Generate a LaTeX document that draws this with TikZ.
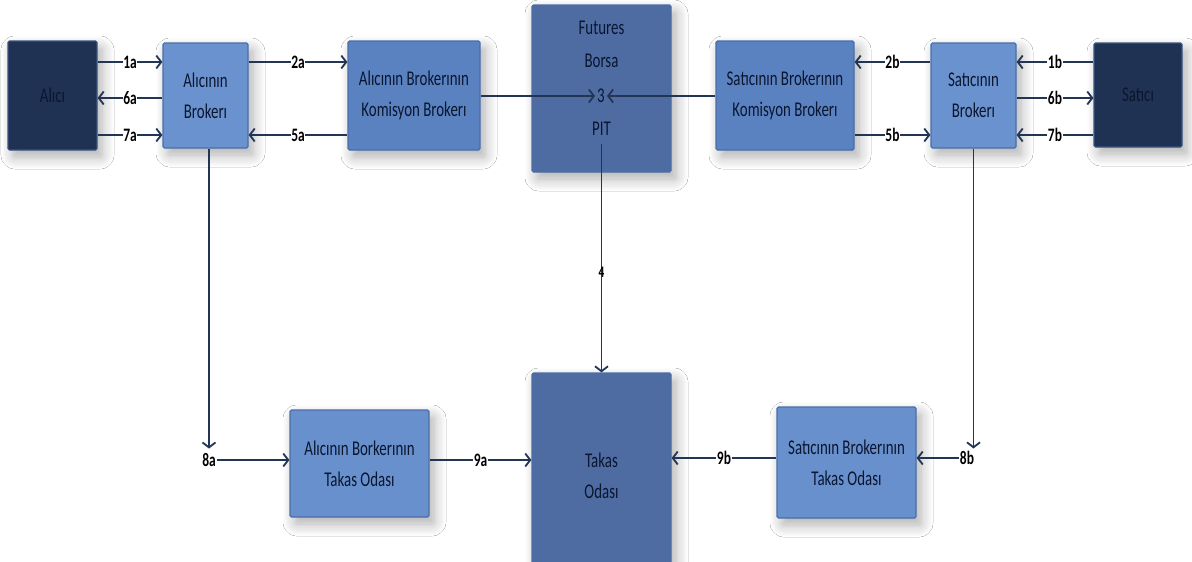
\documentclass[tikz,border=0pt]{standalone}
\usepackage{fontspec}
\setmainfont{Carlito}[FakeStretch=0.71]
\usetikzlibrary{arrows.meta,shadows.blur}
\definecolor{darkfill}{HTML}{1F3254}
\definecolor{darkline}{HTML}{3A5580}
\definecolor{lightfill}{HTML}{6A92CE}
\definecolor{midfill}{HTML}{5B82C0}
\definecolor{takfill}{HTML}{6890CC}
\definecolor{centerfill}{HTML}{4E6CA2}
\definecolor{boxline}{HTML}{4A6EA8}
\definecolor{connline}{HTML}{233554}
\definecolor{txt}{HTML}{0A1630}
\begin{document}
\begin{tikzpicture}[x=1pt,y=-1pt,
  basebox/.style={rounded corners=1.5pt, line width=1.2pt, inner sep=0pt,
     align=center, text=txt, font=\fontsize{21}{31}\selectfont,
     blur shadow={shadow xshift=5pt, shadow yshift=-7pt, shadow blur radius=12pt, shadow blur steps=12, shadow opacity=32}},
  darkbox/.style={basebox, fill=darkfill, draw=darkline},
  lightbox/.style={basebox, fill=lightfill, draw=boxline},
  midbox/.style={basebox, fill=midfill, draw=boxline},
  takbox/.style={basebox, fill=takfill, draw=boxline},
  centerbox/.style={basebox, fill=centerfill, draw=boxline},
  intext/.style={text=txt, font=\fontsize{21}{31}\selectfont, inner sep=2pt},
  conn/.style={draw=connline, line width=2.4pt, -{Straight Barb[length=5pt,width=13pt,line width=1.8pt]}},
  lab/.style={font=\bfseries\fontsize{19}{19}\selectfont, text=black, fill=white, inner sep=0.6pt},
  lab4/.style={font=\bfseries\fontsize{16}{16}\selectfont, text=black, inner sep=0pt}
]
\useasboundingbox (0,0) rectangle (1192,562);
\fill[white] (0,0) rectangle (1192,562);

% row coordinates
\coordinate (rowA) at (0,62);
\coordinate (rowB) at (0,98);
\coordinate (rowC) at (0,135);

% boxes
\node[darkbox, minimum width=89, minimum height=109] (ALICI) at (52.5,95.5) {Alıcı};
\node[lightbox, minimum width=85, minimum height=105] (AB) at (205.5,95.5) {Alıcının\\Brokerı};
\node[midbox, minimum width=132, minimum height=109] (AKB) at (414,95.5) {Alıcının Brokerının\\Komisyon Brokerı};
\node[centerbox, minimum width=139, minimum height=167] (FUT) at (601.5,88.5) {};
\node[midbox, minimum width=138, minimum height=109] (SKB) at (785,95.5) {Satıcının Brokerının\\Komisyon Brokerı};
\node[lightbox, minimum width=85, minimum height=105] (SB) at (973.5,95.5) {Satıcının\\Brokerı};
\node[darkbox, minimum width=88, minimum height=104] (SATICI) at (1138,95) {Satıcı};
\node[centerbox, minimum width=139, minimum height=205] (TAK) at (601.5,475.5) {Takas\\Odası};
\node[takbox, minimum width=139, minimum height=107] (ATO) at (359.5,463.5) {Alıcının Borkerının\\Takas Odası};
\node[takbox, minimum width=139, minimum height=111] (STO) at (846.5,462.5) {Satıcının Brokerının\\Takas Odası};

% text inside the exchange box
\node[intext] (fut1) at (601.5,28) {Futures};
\node[intext] (fut2) at (601.5,61) {Borsa};
\node[intext] (three) at (601,96) {3};
\node[intext] (pit) at (601.5,129) {PIT};

% labels at the ends of the vertical lines
\node[lab, fill=none] (ea) at (209,460) {8a};
\node[lab, fill=none] (eb) at (967,458) {8b};

% buyer side
\draw[conn] (ALICI.east |- rowA) -- node[lab]{1a} (AB.west |- rowA);
\draw[conn] (AB.west |- rowB) -- node[lab]{6a} (ALICI.east |- rowB);
\draw[conn] (ALICI.east |- rowC) -- node[lab]{7a} (AB.west |- rowC);
\draw[conn] (AB.east |- rowA) -- node[lab]{2a} (AKB.west |- rowA);
\draw[conn] (AKB.west |- rowC) -- node[lab]{5a} (AB.east |- rowC);

% to the pit
\draw[conn, line width=1.8pt] (AKB.east |- three) -- (three.west);
\draw[conn, line width=1.8pt] (SKB.west |- three) -- (three.east);

% seller side
\draw[conn] (SB.west |- rowA) -- node[lab]{2b} (SKB.east |- rowA);
\draw[conn] (SKB.east |- rowC) -- node[lab]{5b} (SB.west |- rowC);
\draw[conn] (SATICI.west |- rowA) -- node[lab]{1b} (SB.east |- rowA);
\draw[conn] (SB.east |- rowB) -- node[lab]{6b} (SATICI.west |- rowB);
\draw[conn] (SATICI.west |- rowC) -- node[lab]{7b} (SB.east |- rowC);

% pit down to clearing
\draw[conn, line width=1.8pt] ([yshift=-6pt]pit.south) -- node[lab4, pos=0.56]{4} (TAK.north);

% buyer broker down to clearing
\draw[conn, line width=1.8pt, shorten >=4pt] (AB.south -| ea) -- (ea.north);
\draw[conn] (ea.east) -- (ATO.west |- ea);
\draw[conn] (ATO.east |- ea) -- node[lab]{9a} (TAK.west |- ea);

% seller broker down to clearing
\draw[conn, line width=1.8pt, shorten >=2pt] (SB.south) -- (SB.south |- eb.north);
\draw[conn] (eb.west) -- (STO.east |- eb);
\draw[conn] (STO.west |- eb) -- node[lab]{9b} (TAK.east |- eb);
\end{tikzpicture}
\end{document}
